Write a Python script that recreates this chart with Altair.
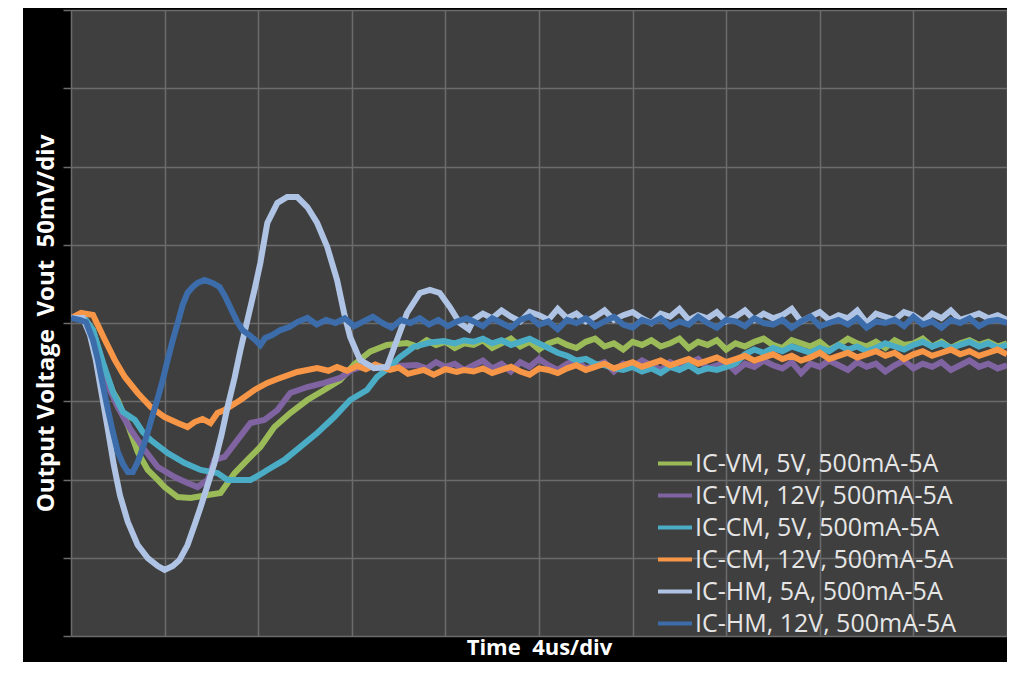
import altair as alt
import pandas as pd

SERIES = ["IC-VM, 5V, 500mA-5A", "IC-VM, 12V, 500mA-5A", "IC-CM, 5V, 500mA-5A",
          "IC-CM, 12V, 500mA-5A", "IC-HM, 5A, 500mA-5A", "IC-HM, 12V, 500mA-5A"]
COLORS = ["#9BBB59", "#8064A2", "#4BACC6", "#F79646", "#AFC4E4", "#3C6DAA"]

X_TICKS = [0, 4, 8, 12, 16, 20, 24, 28, 32, 36, 40]
Y_TICKS = [-200, -150, -100, -50, 0, 50, 100, 150, 200]

# time (us) and deviation (mV) of the transient part of each trace
VM5_T = [0, 0.51, 0.94, 1.36, 1.79, 2.0, 2.43, 2.85, 3.28, 3.71, 4.0, 4.56, 5.11, 5.84, 6.39,
         6.99, 7.54, 8.09, 8.69, 9.37, 10.1, 10.82, 11.5, 12.1, 12.78, 13.5, 14.36, 14.8, 15.2,
         15.6, 16.0, 16.4, 16.8]
VM5_V = [3.2, 4.5, -4.5, -26.8, -44, -49.2, -65.2, -82.4, -93.9, -100.3, -104.8, -111.2, -111.8,
         -109.9, -108.6, -95.9, -87.5, -79.2, -66.5, -57.5, -49.2, -42.8, -36.5, -26.4, -18.3,
         -14.1, -12.8, -15, -11, -14, -12, -16, -13]

VM12_T = [0, 0.51, 0.94, 1.36, 1.66, 2.0, 2.56, 3.15, 3.71, 4.43, 4.98, 5.41, 5.84, 6.13, 6.56,
          7.11, 7.67, 8.26, 8.82, 9.37, 10.1, 10.82, 11.5, 12.0, 12.52, 13.08, 13.93, 14.78, 15.2,
          15.6, 16.0, 16.4, 16.8]
VM12_V = [3.2, 5.1, -5.8, -28.8, -42.8, -53.7, -68.4, -81.2, -92.0, -98.4, -102.2, -104.8, -100.3,
          -87.5, -85.6, -74.8, -63.9, -62.0, -55.6, -44.7, -40.9, -38.3, -35.1, -30.0, -27.5,
          -28.8, -27.5, -26.8, -29, -25, -28, -26, -30]

CM5_T = [0, 0.51, 0.94, 1.36, 1.79, 2.22, 2.73, 3.07, 3.41, 4.13, 4.86, 5.54, 6.26, 6.69, 7.24,
         7.67, 8.05, 8.39, 9.12, 9.8, 10.52, 11.25, 11.93, 12.65, 13.08, 13.63, 14.06, 14.65,
         15.34, 15.93, 16.4, 16.8]
CM5_V = [3.2, 4.5, -4.5, -24.9, -44.1, -56.9, -62.0, -69.7, -74.8, -83.1, -89.5, -93.9, -95.9,
         -100.3, -100.3, -100.3, -97.1, -93.9, -87.5, -79.2, -70.3, -60.1, -49.2, -42.8, -34.5,
         -28.1, -21.7, -15.3, -12.5, -11.5, -13, -11]

CM12_T = [0, 0.43, 0.94, 1.45, 1.87, 2.3, 2.85, 3.41, 4.0, 4.56, 4.98, 5.28, 5.62, 5.96, 6.26,
          6.56, 7.24, 7.84, 8.39, 8.82, 9.67, 10.52, 11.0, 11.37, 11.8, 12.23, 12.6, 13.0, 13.63,
          14.0, 14.4, 15.08, 15.5, 16.0, 16.49, 16.8]
CM12_V = [3.2, 6.4, 5.1, -10.9, -23.6, -34.5, -44.7, -53.7, -60.1, -63.9, -66.5, -63.3, -61.3,
          -64.0, -57.5, -55.6, -49.2, -42.8, -38.3, -35.8, -31.3, -28.8, -30.5, -28.1, -30.5,
          -27.5, -29.5, -26.5, -30.0, -28.5, -32.5, -30.0, -33.0, -29.5, -31.3, -30.0]

HM5_T = [0, 0.51, 0.81, 1.06, 1.32, 1.58, 1.83, 2.09, 2.43, 2.85, 3.28, 3.71, 4.0, 4.35, 4.64,
         4.98, 5.28, 5.54, 5.84, 6.13, 6.43, 6.69, 6.99, 7.24, 7.54, 7.84, 8.09, 8.39, 8.82, 9.24,
         9.67, 10.1, 10.52, 10.95, 11.37, 11.67, 11.93, 12.35, 12.95, 13.5, 13.93, 14.36, 14.91,
         15.34, 15.76, 16.19, 16.61, 17.0]
HM5_V = [3.2, 3.2, -7.7, -23.6, -46.0, -68.4, -90.7, -109.9, -127.2, -141.9, -150.2, -155.3,
         -157.8, -155.3, -151.4, -141.9, -129.1, -117.6, -103.5, -89.5, -71.6, -53.7, -35.1,
         -17.3, 1.9, 21.1, 38.3, 63.9, 76.7, 80.5, 80.5, 74.1, 63.9, 48.6, 27.5, 6.4, -8.9, -23.6,
         -28.8, -28.1, -10.9, 6.4, 19.2, 21.1, 19.2, 10.2, 0.0, -4.0]

HM12_T = [0, 0.4, 0.64, 0.94, 1.15, 1.36, 1.58, 1.79, 2.0, 2.22, 2.43, 2.64, 2.85, 3.07, 3.28,
          3.49, 3.71, 3.92, 4.13, 4.35, 4.56, 4.77, 4.98, 5.2, 5.41, 5.71, 6.05, 6.35, 6.6, 6.9,
          7.11, 7.33, 7.62, 7.88, 8.09, 8.3, 8.6, 8.95, 9.33, 9.67, 10.1, 10.5, 10.9, 11.3, 11.7,
          12.1, 12.5, 12.9, 13.3, 13.7, 14.1, 14.5, 14.9, 15.3, 15.7, 16.1, 16.5, 16.9]
HM12_V = [3.2, 1.9, 0.6, -10.9, -23.6, -39.6, -55.6, -69.7, -82.4, -90.1, -95.2, -95.2, -88.8,
          -79.9, -69.7, -58.8, -47.9, -36.4, -23.6, -10.9, 0.0, 11.5, 19.2, 23.0, 25.6, 27.5, 25.6,
          23.0, 16.6, 7.0, 0.6, -4.5, -7.7, -10.9, -14.1, -9.6, -7.7, -4.5, -2.6, 0.6, 3.2, -1, 2,
          0, 3, -2, 1, 4, 0, -3, 2, 0, 3, -1, 2, -2, 1, 3]

# settled (noisy) part: shared time grid (us) and the values (mV) of each trace
TAIL_T = [17.2, 17.6, 18.0, 18.4, 18.8, 19.2, 19.6, 20.0, 20.4, 20.8,
          21.2, 21.6, 22.0, 22.4, 22.8, 23.2, 23.6, 24.0, 24.4, 24.8,
          25.2, 25.6, 26.0, 26.4, 26.8, 27.2, 27.6, 28.0, 28.4, 28.8,
          29.2, 29.6, 30.0, 30.4, 30.8, 31.2, 31.6, 32.0, 32.4, 32.8,
          33.2, 33.6, 34.0, 34.4, 34.8, 35.2, 35.6, 36.0, 36.4, 36.8,
          37.2, 37.6, 38.0, 38.4, 38.8, 39.2, 39.6, 40.0]
VM5_TAIL = [-14, -11, -16, -13, -10, -15, -12, -17, -13, -11,
            -14, -16, -12, -10, -15, -13, -17, -12, -14, -11,
            -15, -13, -10, -16, -12, -14, -11, -17, -13, -15,
            -12, -10, -14, -16, -11, -13, -15, -12, -17, -14,
            -10, -13, -15, -12, -16, -11, -14, -13, -10, -15,
            -12, -16, -13, -11, -14, -12, -15, -13]
VM12_TAIL = [-27, -24, -29, -26, -31, -25, -28, -23, -27, -30,
             -26, -24, -29, -27, -25, -31, -26, -28, -24, -27,
             -30, -25, -28, -26, -23, -29, -27, -25, -31, -26,
             -28, -24, -27, -29, -25, -32, -26, -28, -24, -27,
             -30, -25, -28, -26, -31, -27, -24, -29, -26, -28,
             -25, -30, -27, -24, -28, -26, -29, -27]
CM5_TAIL = [-12, -10, -13, -11, -14, -12, -10, -13,
            -16, -19, -21, -24, -23, -26, -27, -29,
            -30, -28, -31, -29, -32, -28, -30, -27, -31, -29, -30, -28, -26,
            -20, -17, -19, -16, -18, -15, -17, -19, -16, -18, -14, -17, -15, -18, -16, -13,
            -15, -17, -14, -12, -15, -13, -16, -14, -12, -15, -13, -16, -14]
CM12_TAIL = [-31, -29, -32, -30, -28, -31, -33, -29, -30, -32,
             -29, -27, -30, -28, -26, -29, -27, -25, -28, -26,
             -24, -27, -25, -23, -26, -24, -22, -25, -23, -21,
             -24, -22, -20, -23, -21, -24, -22, -19, -23, -21,
             -19, -22, -20, -18, -21, -19, -23, -20, -18, -21,
             -19, -17, -20, -18, -21, -19, -17, -20]
HM5_TAIL = [2, 6, 3, 8, 4, 1, 7, 5, 2, 9,
            3, 6, 1, 4, 8, 2, 5, 7, 3, 0,
            6, 4, 9, 2, 5, 3, 7, 1, 4, 8,
            2, 6, 3, 5, 9, 1, 4, 7, 2, 5,
            3, 8, 0, 6, 4, 2, 7, 5, 1, 6,
            3, 8, 2, 4, 6, 3, 5, 2]
HM12_TAIL = [1, -2, 3, 0, -3, 2, 4, -1, 1, -4,
             2, 0, 3, -2, 1, 4, -1, -3, 2, 0,
             3, -2, 1, -1, 4, 0, -3, 2, 1, -2,
             3, 0, -1, 2, -3, 1, 4, -2, 0, 2,
             -1, 3, -3, 1, 0, 2, -2, 4, -1, 1,
             -3, 2, 0, 3, -2, 1, 2, 0]

rows = []
for name, ts, vs, tail in [
    (SERIES[0], VM5_T, VM5_V, VM5_TAIL),
    (SERIES[1], VM12_T, VM12_V, VM12_TAIL),
    (SERIES[2], CM5_T, CM5_V, CM5_TAIL),
    (SERIES[3], CM12_T, CM12_V, CM12_TAIL),
    (SERIES[4], HM5_T, HM5_V, HM5_TAIL),
    (SERIES[5], HM12_T, HM12_V, HM12_TAIL),
]:
    assert len(ts) == len(vs), name
    assert len(tail) == len(TAIL_T), name
    for t, v in zip(ts + TAIL_T, vs + tail):
        rows.append({"series": name, "t": t, "v": v})
df = pd.DataFrame(rows)

GRID = "#6B6B6B"
FONT = "Open Sans"

lines = alt.Chart(df).mark_line(strokeWidth=6, clip=True).encode(
    x=alt.X("t:Q", scale=alt.Scale(domain=[0, 40], nice=False, zero=False),
            axis=alt.Axis(values=X_TICKS, grid=True, ticks=False, labels=False, domain=False,
                          title="Time\u00a0 4us/div", titlePadding=1, titleFontSize=22)),
    y=alt.Y("v:Q", scale=alt.Scale(domain=[-200, 200], nice=False),
            axis=alt.Axis(values=Y_TICKS, grid=True, ticks=True, tickSize=8, labels=False,
                          domain=False, title="Output Voltage\u00a0 Vout\u00a0 50mV/div",
                          titlePadding=4)),
    color=alt.Color("series:N", scale=alt.Scale(domain=SERIES, range=COLORS),
                    legend=alt.Legend(title=None, orient="none", legendX=585, legendY=443,
                                      symbolType="stroke", symbolSize=1156, symbolStrokeWidth=4,
                                      clipHeight=21, rowPadding=6, padding=0,
                                      labelFont=FONT, labelFontSize=25, labelColor="#E6E6E6",
                                      labelOffset=1, labelLimit=500)),
)

strip = alt.Chart(pd.DataFrame({"a": [0]})).mark_rect(color="white").encode(
    x=alt.value(-63), x2=alt.value(-48), y=alt.value(-2), y2=alt.value(660)
)

chart = alt.layer(strip, lines).properties(
    width=936, height=626,
    autosize=alt.AutoSizeParams(type="none"),
    padding={"left": 63, "top": 2, "right": 0, "bottom": 26},
    background="black",
).configure_view(
    fill="#3F3F3F", stroke=None
).configure_axis(
    gridColor=GRID, gridWidth=1.5, tickColor=GRID, tickWidth=1.5,
    titleFont=FONT, titleFontSize=24, titleFontWeight="bold", titleColor="white",
)

chart.save("out.html", embed_options={"renderer": "svg", "actions": False})
